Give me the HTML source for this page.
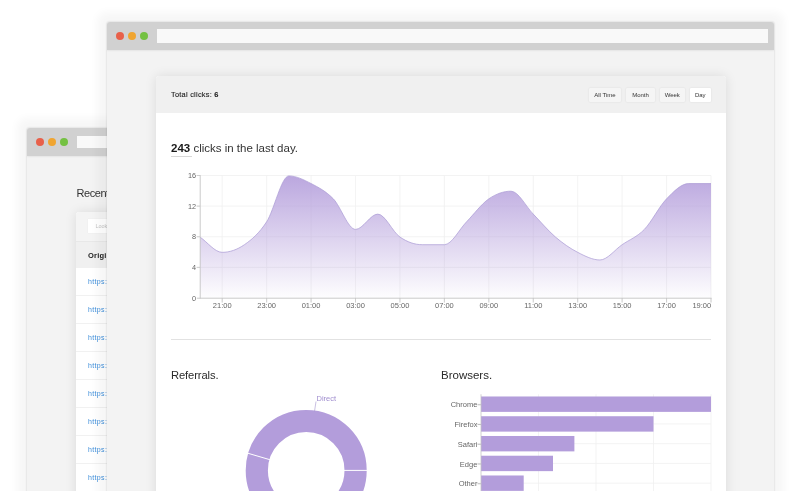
<!DOCTYPE html>
<html><head><meta charset="utf-8">
<style>
*{margin:0;padding:0;box-sizing:border-box}
html,body{width:800px;height:491px;overflow:hidden;background:#fff}
body{position:relative;font-family:"Liberation Sans",Arial,sans-serif;color:#222}
.abs{position:absolute}
.win{position:absolute;background:#f3f3f3;box-shadow:0 0 1.5px 0.5px rgba(0,0,0,0.07),0 0 8px 10px rgba(0,0,0,0.035);border-radius:3px 3px 0 0}
.bar{position:absolute;left:0;top:0;right:0;background:#d1d1d1;border-radius:3px 3px 0 0;box-shadow:0 1px 2px rgba(0,0,0,0.06)}
.dot{position:absolute;width:8px;height:8px;border-radius:50%}
.r{background:#e8604a}.o{background:#f0a531}.g{background:#74c142}
.addr{position:absolute;background:#f9f9f9}
.card{position:absolute;background:#fff;box-shadow:0 0 12px rgba(0,0,0,0.10);border-radius:3px 3px 0 0}
.btn{position:absolute;top:87.8px;height:14.5px;background:#f5f5f5;font-size:6px;line-height:14.5px;text-align:center;color:#333;box-shadow:0 0 2px rgba(0,0,0,0.10);border-radius:1px}
</style></head>
<body>
<!-- back window -->
<div class="win" style="left:27px;top:127.8px;width:110px;height:380px">
  <div class="bar" style="height:27.8px"></div>
  <div class="dot r" style="left:9px;top:10px"></div>
  <div class="dot o" style="left:21px;top:10px"></div>
  <div class="dot g" style="left:33px;top:10px"></div>
  <div class="addr" style="left:50px;top:8.2px;width:80px;height:12.5px"></div>
  <div class="abs" style="left:49.5px;top:59.3px;font-size:11px;letter-spacing:-0.45px;color:#333;white-space:nowrap">Recent</div>
  <div class="card" style="left:48.6px;top:84.1px;width:80px;height:300px;background:#fff">
    <div class="abs" style="left:0;top:0;width:80px;height:29.4px;background:#f4f4f4;border-radius:3px 3px 0 0"></div>
    <div class="abs" style="left:12.4px;top:6.9px;width:70px;height:14.2px;background:#fff;font-size:5.5px;line-height:14px;color:#c4c4c4;padding-left:7.4px;box-shadow:0 0 1px rgba(0,0,0,0.08)">Looking</div>
    <div class="abs" style="left:0;top:29.4px;width:80px;height:27px;background:#f0f0f0;border-top:1px solid #e8e8e8"></div>
    <div class="abs" style="left:12.4px;top:39.3px;font-size:7.5px;letter-spacing:0.2px;font-weight:bold;color:#222">Original</div>
  </div>
</div>
<!--ROWS--><div class="abs" style="left:88px;top:277.8px;font-size:7px;letter-spacing:0.35px;color:#3f8fdb;white-space:nowrap">https:</div><div class="abs" style="left:76px;top:295.2px;width:31px;height:1px;background:#f1f1f1"></div><div class="abs" style="left:88px;top:305.8px;font-size:7px;letter-spacing:0.35px;color:#3f8fdb;white-space:nowrap">https:</div><div class="abs" style="left:76px;top:323.2px;width:31px;height:1px;background:#f1f1f1"></div><div class="abs" style="left:88px;top:333.8px;font-size:7px;letter-spacing:0.35px;color:#3f8fdb;white-space:nowrap">https:</div><div class="abs" style="left:76px;top:351.2px;width:31px;height:1px;background:#f1f1f1"></div><div class="abs" style="left:88px;top:361.8px;font-size:7px;letter-spacing:0.35px;color:#3f8fdb;white-space:nowrap">https:</div><div class="abs" style="left:76px;top:379.2px;width:31px;height:1px;background:#f1f1f1"></div><div class="abs" style="left:88px;top:389.8px;font-size:7px;letter-spacing:0.35px;color:#3f8fdb;white-space:nowrap">https:</div><div class="abs" style="left:76px;top:407.2px;width:31px;height:1px;background:#f1f1f1"></div><div class="abs" style="left:88px;top:417.8px;font-size:7px;letter-spacing:0.35px;color:#3f8fdb;white-space:nowrap">https:</div><div class="abs" style="left:76px;top:435.2px;width:31px;height:1px;background:#f1f1f1"></div><div class="abs" style="left:88px;top:445.8px;font-size:7px;letter-spacing:0.35px;color:#3f8fdb;white-space:nowrap">https:</div><div class="abs" style="left:76px;top:463.2px;width:31px;height:1px;background:#f1f1f1"></div><div class="abs" style="left:88px;top:473.8px;font-size:7px;letter-spacing:0.35px;color:#3f8fdb;white-space:nowrap">https:</div><div class="abs" style="left:76px;top:491.2px;width:31px;height:1px;background:#f1f1f1"></div><!--/ROWS-->

<!-- front window -->
<div class="win" style="left:107px;top:22px;width:667px;height:480px">
  <div class="bar" style="height:28px"></div>
  <div class="dot r" style="left:9px;top:10px"></div>
  <div class="dot o" style="left:21px;top:10px"></div>
  <div class="dot g" style="left:33px;top:10px"></div>
  <div class="addr" style="left:50px;top:7px;width:611px;height:14px"></div>
</div>

<!-- inner card -->
<div class="card" style="left:156px;top:75.5px;width:570px;height:430px">
  <div class="abs" style="left:0;top:0;width:570px;height:37px;background:#f0f0f0;border-radius:3px 3px 0 0"></div>
  <div class="abs" style="left:15px;top:14.2px;font-size:7.4px;letter-spacing:0.25px;color:#222;white-space:nowrap;-webkit-text-stroke:0.12px #222">Total clicks: <b>6</b></div>
</div>
<div class="btn" style="left:588.7px;width:32.4px">All Time</div>
<div class="btn" style="left:626px;width:29px">Month</div>
<div class="btn" style="left:659.5px;width:25.5px">Week</div>
<div class="btn" style="left:689.5px;width:21.5px;background:#fff">Day</div>

<div class="abs" style="left:171px;top:142px;font-size:11.5px;color:#333;white-space:nowrap"><b style="color:#1a1a1a">243</b> clicks in the last day.</div>
<div class="abs" style="left:171px;top:155.5px;width:21px;height:1px;background:#d8d8d8"></div>

<div class="abs" style="left:171px;top:338.5px;width:540px;height:1px;background:#e2e2e2"></div>
<div class="abs" style="left:171px;top:368.6px;font-size:11.2px;letter-spacing:-0.1px;color:#2a2a2a">Referrals.</div>
<div class="abs" style="left:441px;top:369px;font-size:11.5px;color:#2a2a2a">Browsers.</div>

<svg class="abs" style="left:0;top:0" width="800" height="491" viewBox="0 0 800 491">
  <defs>
    <linearGradient id="gf" x1="0" y1="175.5" x2="0" y2="298" gradientUnits="userSpaceOnUse">
      <stop offset="0" stop-color="#b39ddb" stop-opacity="0.9"/>
      <stop offset="1" stop-color="#b39ddb" stop-opacity="0.02"/>
    </linearGradient>
  </defs>
  <g id="chart">
  <line x1="195.5" y1="267.38" x2="711" y2="267.38" stroke="#f0f0f0" stroke-width="0.8"/>
  <line x1="196.8" y1="267.38" x2="200" y2="267.38" stroke="#c4c4c4" stroke-width="0.8"/>
  <line x1="195.5" y1="236.75" x2="711" y2="236.75" stroke="#f0f0f0" stroke-width="0.8"/>
  <line x1="196.8" y1="236.75" x2="200" y2="236.75" stroke="#c4c4c4" stroke-width="0.8"/>
  <line x1="195.5" y1="206.12" x2="711" y2="206.12" stroke="#f0f0f0" stroke-width="0.8"/>
  <line x1="196.8" y1="206.12" x2="200" y2="206.12" stroke="#c4c4c4" stroke-width="0.8"/>
  <line x1="195.5" y1="175.50" x2="711" y2="175.50" stroke="#f0f0f0" stroke-width="0.8"/>
  <line x1="196.8" y1="175.50" x2="200" y2="175.50" stroke="#c4c4c4" stroke-width="0.8"/>
  <line x1="222.22" y1="175.5" x2="222.22" y2="302.5" stroke="#f0f0f0" stroke-width="0.8"/>
  <line x1="222.22" y1="298" x2="222.22" y2="302.5" stroke="#c4c4c4" stroke-width="0.8"/>
  <line x1="266.65" y1="175.5" x2="266.65" y2="302.5" stroke="#f0f0f0" stroke-width="0.8"/>
  <line x1="266.65" y1="298" x2="266.65" y2="302.5" stroke="#c4c4c4" stroke-width="0.8"/>
  <line x1="311.09" y1="175.5" x2="311.09" y2="302.5" stroke="#f0f0f0" stroke-width="0.8"/>
  <line x1="311.09" y1="298" x2="311.09" y2="302.5" stroke="#c4c4c4" stroke-width="0.8"/>
  <line x1="355.52" y1="175.5" x2="355.52" y2="302.5" stroke="#f0f0f0" stroke-width="0.8"/>
  <line x1="355.52" y1="298" x2="355.52" y2="302.5" stroke="#c4c4c4" stroke-width="0.8"/>
  <line x1="399.96" y1="175.5" x2="399.96" y2="302.5" stroke="#f0f0f0" stroke-width="0.8"/>
  <line x1="399.96" y1="298" x2="399.96" y2="302.5" stroke="#c4c4c4" stroke-width="0.8"/>
  <line x1="444.39" y1="175.5" x2="444.39" y2="302.5" stroke="#f0f0f0" stroke-width="0.8"/>
  <line x1="444.39" y1="298" x2="444.39" y2="302.5" stroke="#c4c4c4" stroke-width="0.8"/>
  <line x1="488.83" y1="175.5" x2="488.83" y2="302.5" stroke="#f0f0f0" stroke-width="0.8"/>
  <line x1="488.83" y1="298" x2="488.83" y2="302.5" stroke="#c4c4c4" stroke-width="0.8"/>
  <line x1="533.26" y1="175.5" x2="533.26" y2="302.5" stroke="#f0f0f0" stroke-width="0.8"/>
  <line x1="533.26" y1="298" x2="533.26" y2="302.5" stroke="#c4c4c4" stroke-width="0.8"/>
  <line x1="577.70" y1="175.5" x2="577.70" y2="302.5" stroke="#f0f0f0" stroke-width="0.8"/>
  <line x1="577.70" y1="298" x2="577.70" y2="302.5" stroke="#c4c4c4" stroke-width="0.8"/>
  <line x1="622.13" y1="175.5" x2="622.13" y2="302.5" stroke="#f0f0f0" stroke-width="0.8"/>
  <line x1="622.13" y1="298" x2="622.13" y2="302.5" stroke="#c4c4c4" stroke-width="0.8"/>
  <line x1="666.57" y1="175.5" x2="666.57" y2="302.5" stroke="#f0f0f0" stroke-width="0.8"/>
  <line x1="666.57" y1="298" x2="666.57" y2="302.5" stroke="#c4c4c4" stroke-width="0.8"/>
  <line x1="711.00" y1="175.5" x2="711.00" y2="302.5" stroke="#f0f0f0" stroke-width="0.8"/>
  <line x1="711.00" y1="298" x2="711.00" y2="302.5" stroke="#c4c4c4" stroke-width="0.8"/>
  <path d="M200.00,237.05 C207.41,242.15 214.81,252.34 222.22,252.34 C229.62,252.34 237.03,249.79 244.43,244.69 C251.84,239.60 259.25,233.23 266.65,221.76 C274.06,210.30 281.46,175.90 288.87,175.90 C296.28,175.90 303.68,179.72 311.09,183.54 C318.49,187.37 325.90,191.19 333.30,198.83 C340.71,206.47 348.12,229.41 355.52,229.41 C362.93,229.41 370.33,214.12 377.74,214.12 C385.14,214.12 392.55,231.95 399.96,237.05 C407.36,242.15 414.77,244.69 422.17,244.69 C429.58,244.69 436.99,244.69 444.39,244.69 C451.80,244.69 459.20,229.41 466.61,221.76 C474.01,214.12 481.42,203.93 488.83,198.83 C496.23,193.74 503.64,191.19 511.04,191.19 C518.45,191.19 525.86,206.48 533.26,214.12 C540.67,221.76 548.07,230.68 555.48,237.05 C562.88,243.42 570.29,248.52 577.70,252.34 C585.10,256.16 592.51,259.98 599.91,259.98 C607.32,259.98 614.72,249.79 622.13,244.69 C629.54,239.60 636.94,237.05 644.35,229.41 C651.75,221.76 659.16,206.48 666.57,198.83 C673.97,191.19 681.38,183.54 688.78,183.54 C696.19,183.54 703.59,183.54 711.00,183.54 L711.00,298.20 L200.00,298.20 Z" fill="url(#gf)"/>
  <path d="M200.00,237.05 C207.41,242.15 214.81,252.34 222.22,252.34 C229.62,252.34 237.03,249.79 244.43,244.69 C251.84,239.60 259.25,233.23 266.65,221.76 C274.06,210.30 281.46,175.90 288.87,175.90 C296.28,175.90 303.68,179.72 311.09,183.54 C318.49,187.37 325.90,191.19 333.30,198.83 C340.71,206.47 348.12,229.41 355.52,229.41 C362.93,229.41 370.33,214.12 377.74,214.12 C385.14,214.12 392.55,231.95 399.96,237.05 C407.36,242.15 414.77,244.69 422.17,244.69 C429.58,244.69 436.99,244.69 444.39,244.69 C451.80,244.69 459.20,229.41 466.61,221.76 C474.01,214.12 481.42,203.93 488.83,198.83 C496.23,193.74 503.64,191.19 511.04,191.19 C518.45,191.19 525.86,206.48 533.26,214.12 C540.67,221.76 548.07,230.68 555.48,237.05 C562.88,243.42 570.29,248.52 577.70,252.34 C585.10,256.16 592.51,259.98 599.91,259.98 C607.32,259.98 614.72,249.79 622.13,244.69 C629.54,239.60 636.94,237.05 644.35,229.41 C651.75,221.76 659.16,206.48 666.57,198.83 C673.97,191.19 681.38,183.54 688.78,183.54 C696.19,183.54 703.59,183.54 711.00,183.54" fill="none" stroke="#a999d4" stroke-width="0.7"/>
  <line x1="200.2" y1="175" x2="200.2" y2="298.6" stroke="#c4c4c4" stroke-width="0.9"/>
  <line x1="196.8" y1="298.2" x2="711.5" y2="298.2" stroke="#c4c4c4" stroke-width="0.9"/>
  <text x="196" y="298.00" font-size="7.3" fill="#666" text-anchor="end" dominant-baseline="central">0</text>
  <text x="196" y="267.38" font-size="7.3" fill="#666" text-anchor="end" dominant-baseline="central">4</text>
  <text x="196" y="236.75" font-size="7.3" fill="#666" text-anchor="end" dominant-baseline="central">8</text>
  <text x="196" y="206.12" font-size="7.3" fill="#666" text-anchor="end" dominant-baseline="central">12</text>
  <text x="196" y="175.50" font-size="7.3" fill="#666" text-anchor="end" dominant-baseline="central">16</text>
  <text x="222.22" y="308" font-size="7.5" fill="#666" text-anchor="middle">21:00</text>
  <text x="266.65" y="308" font-size="7.5" fill="#666" text-anchor="middle">23:00</text>
  <text x="311.09" y="308" font-size="7.5" fill="#666" text-anchor="middle">01:00</text>
  <text x="355.52" y="308" font-size="7.5" fill="#666" text-anchor="middle">03:00</text>
  <text x="399.96" y="308" font-size="7.5" fill="#666" text-anchor="middle">05:00</text>
  <text x="444.39" y="308" font-size="7.5" fill="#666" text-anchor="middle">07:00</text>
  <text x="488.83" y="308" font-size="7.5" fill="#666" text-anchor="middle">09:00</text>
  <text x="533.26" y="308" font-size="7.5" fill="#666" text-anchor="middle">11:00</text>
  <text x="577.70" y="308" font-size="7.5" fill="#666" text-anchor="middle">13:00</text>
  <text x="622.13" y="308" font-size="7.5" fill="#666" text-anchor="middle">15:00</text>
  <text x="666.57" y="308" font-size="7.5" fill="#666" text-anchor="middle">17:00</text>
  <text x="711.2" y="308" font-size="7.5" fill="#666" text-anchor="end">19:00</text>
  <circle cx="306.20" cy="470.40" r="49.40" fill="none" stroke="#b39ddb" stroke-width="22.20"/>
  <line x1="344.00" y1="470.40" x2="367.20" y2="470.40" stroke="#fff" stroke-width="1"/>
  <line x1="269.94" y1="459.73" x2="247.68" y2="453.18" stroke="#fff" stroke-width="1"/>
  <polyline points="314.5,411.4 316,401.5" fill="none" stroke="#a596cf" stroke-width="0.6"/>
  <text x="316.5" y="401.2" font-size="7.5" fill="#a08ecf">Direct</text>
  <line x1="538.50" y1="394.30" x2="538.50" y2="495" stroke="#f0f0f0" stroke-width="0.8"/>
  <line x1="596.00" y1="394.30" x2="596.00" y2="495" stroke="#f0f0f0" stroke-width="0.8"/>
  <line x1="653.50" y1="394.30" x2="653.50" y2="495" stroke="#f0f0f0" stroke-width="0.8"/>
  <line x1="711.00" y1="394.30" x2="711.00" y2="495" stroke="#f0f0f0" stroke-width="0.8"/>
  <line x1="476.5" y1="404.18" x2="711" y2="404.18" stroke="#f0f0f0" stroke-width="0.8"/>
  <line x1="477.6" y1="404.78" x2="481" y2="404.78" stroke="#b0b0b0" stroke-width="0.8"/>
  <line x1="476.5" y1="423.93" x2="711" y2="423.93" stroke="#f0f0f0" stroke-width="0.8"/>
  <line x1="477.6" y1="424.53" x2="481" y2="424.53" stroke="#b0b0b0" stroke-width="0.8"/>
  <line x1="476.5" y1="443.68" x2="711" y2="443.68" stroke="#f0f0f0" stroke-width="0.8"/>
  <line x1="477.6" y1="444.28" x2="481" y2="444.28" stroke="#b0b0b0" stroke-width="0.8"/>
  <line x1="476.5" y1="463.43" x2="711" y2="463.43" stroke="#f0f0f0" stroke-width="0.8"/>
  <line x1="477.6" y1="464.03" x2="481" y2="464.03" stroke="#b0b0b0" stroke-width="0.8"/>
  <line x1="476.5" y1="483.18" x2="711" y2="483.18" stroke="#f0f0f0" stroke-width="0.8"/>
  <line x1="477.6" y1="483.78" x2="481" y2="483.78" stroke="#b0b0b0" stroke-width="0.8"/>
  <rect x="481.00" y="396.48" width="230.00" height="15.40" fill="#b39ddb"/>
  <text x="477.4" y="404.78" font-size="7.5" fill="#666" text-anchor="end" dominant-baseline="central">Chrome</text>
  <rect x="481.00" y="416.23" width="172.50" height="15.40" fill="#b39ddb"/>
  <text x="477.4" y="424.53" font-size="7.5" fill="#666" text-anchor="end" dominant-baseline="central">Firefox</text>
  <rect x="481.00" y="435.98" width="93.40" height="15.40" fill="#b39ddb"/>
  <text x="477.4" y="444.28" font-size="7.5" fill="#666" text-anchor="end" dominant-baseline="central">Safari</text>
  <rect x="481.00" y="455.73" width="72.00" height="15.40" fill="#b39ddb"/>
  <text x="477.4" y="464.03" font-size="7.5" fill="#666" text-anchor="end" dominant-baseline="central">Edge</text>
  <rect x="481.00" y="475.48" width="42.70" height="15.40" fill="#b39ddb"/>
  <text x="477.4" y="483.78" font-size="7.5" fill="#666" text-anchor="end" dominant-baseline="central">Other</text>
  <line x1="481" y1="394.30" x2="481" y2="495" stroke="#c4c4c4" stroke-width="0.8"/>
  </g>
</svg>
</body></html>
